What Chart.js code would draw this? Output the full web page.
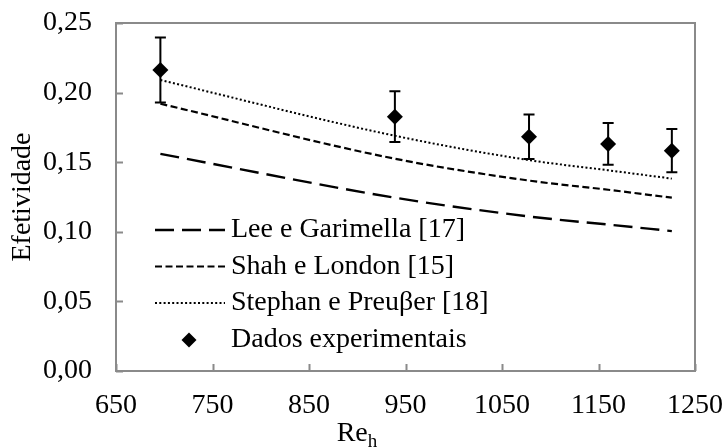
<!DOCTYPE html>
<html>
<head>
<meta charset="utf-8">
<script src="https://cdn.jsdelivr.net/npm/chart.js@4/dist/chart.umd.min.js"></script>
<style>
  html, body { margin: 0; padding: 0; background: #fff; }
  #wrap { width: 726px; height: 448px; }
</style>
</head>
<body>
<div id="wrap"><canvas id="chart" width="726" height="448"></canvas></div>
<script>
// Reynolds numbers where the correlations were evaluated / tests were run
const reModel = [696, 939, 1078, 1160, 1226];
const reExp = [696, 939, 1078, 1160, 1226];

// effectiveness predicted by each correlation
const leeGarimella = [0.156, 0.1245, 0.111, 0.1052, 0.1005];
const shahLondon = [0.192, 0.1525, 0.1368, 0.1302, 0.1245];
const stephanPreusser = [0.209, 0.169, 0.1515, 0.1442, 0.1382];

// measured effectiveness and its uncertainty
const efetividadeExp = [0.2162, 0.1827, 0.1683, 0.1631, 0.1583];
const incertezaExp = [0.0233, 0.0182, 0.016, 0.015, 0.0155];

const xLimits = [650, 1250, 100];
const yLimits = [0, 0.25, 0.05];

const FONT = 'Liberation Serif, Times New Roman, serif';
const FONT_SIZE = 28;
const AXIS_GRAY = '#8a8a8a';

function pts(xs, ys) {
  return xs.map((x, i) => ({ x: x, y: ys[i] }));
}

const series = [
  { label: 'Lee e Garimella [17]', data: pts(reModel, leeGarimella), dash: [19, 8], width: 2.4 },
  { label: 'Shah e London [15]', data: pts(reModel, shahLondon), dash: [7, 3.5], width: 2.2 },
  { label: 'Stephan e Preu\u03b2er [18]', data: pts(reModel, stephanPreusser), dash: [2, 2.3], width: 2 }
];

// plot frame, inward tick marks and error bars
const framePlugin = {
  id: 'frame',
  beforeDatasetsDraw(chart) {
    const ctx = chart.ctx;
    const a = chart.chartArea;
    const xs = chart.scales.x, ys = chart.scales.y;
    ctx.save();
    ctx.strokeStyle = AXIS_GRAY;
    ctx.lineWidth = 2;
    ctx.strokeRect(a.left, a.top, a.right - a.left, a.bottom - a.top);
    ctx.beginPath();
    xs.ticks.forEach(t => {
      const px = Math.round(xs.getPixelForValue(t.value)) + 0.5;
      ctx.moveTo(px, a.bottom);
      ctx.lineTo(px, a.bottom - 7);
    });
    ys.ticks.forEach(t => {
      const py = Math.round(ys.getPixelForValue(t.value)) + 0.5;
      ctx.moveTo(a.left, py);
      ctx.lineTo(a.left + 7, py);
    });
    ctx.stroke();
    ctx.restore();
  },
  afterDatasetsDraw(chart) {
    const ctx = chart.ctx;
    const xs = chart.scales.x, ys = chart.scales.y;
    ctx.save();
    ctx.strokeStyle = '#000';
    ctx.lineWidth = 2;
    ctx.beginPath();
    reExp.forEach((re, i) => {
      const px = xs.getPixelForValue(re);
      const top = ys.getPixelForValue(efetividadeExp[i] + incertezaExp[i]);
      const bot = ys.getPixelForValue(efetividadeExp[i] - incertezaExp[i]);
      ctx.moveTo(px, top); ctx.lineTo(px, bot);
      ctx.moveTo(px - 5.5, top); ctx.lineTo(px + 5.5, top);
      ctx.moveTo(px - 5.5, bot); ctx.lineTo(px + 5.5, bot);
    });
    ctx.stroke();
    ctx.restore();
  },
  afterDraw(chart) {
    const ctx = chart.ctx;
    ctx.save();
    ctx.fillStyle = '#000';
    ctx.font = FONT_SIZE + 'px ' + FONT;
    ctx.textBaseline = 'middle';

    // legend inside the plot
    const rows = [230, 266.5, 303, 340];
    const x0 = 155, x1 = 225, tx = 231;
    series.forEach((s, i) => {
      ctx.save();
      ctx.strokeStyle = '#000';
      ctx.lineWidth = s.width;
      ctx.setLineDash(s.dash);
      ctx.beginPath();
      ctx.moveTo(x0, rows[i]);
      ctx.lineTo(x1, rows[i]);
      ctx.stroke();
      ctx.restore();
      ctx.fillText(s.label, tx, rows[i]);
    });
    const cy = rows[3], cx = 189, r = 7.5;
    ctx.beginPath();
    ctx.moveTo(cx, cy - r); ctx.lineTo(cx + r, cy);
    ctx.lineTo(cx, cy + r); ctx.lineTo(cx - r, cy);
    ctx.closePath();
    ctx.fill();
    ctx.fillText('Dados experimentais', tx, cy);

    // x axis title with subscript
    ctx.textBaseline = 'alphabetic';
    ctx.textAlign = 'left';
    const w1 = ctx.measureText('Re').width;
    ctx.font = '19px ' + FONT;
    const w2 = ctx.measureText('h').width;
    const sx = 357 - (w1 + w2) / 2;
    ctx.font = FONT_SIZE + 'px ' + FONT;
    ctx.fillText('Re', sx, 441);
    ctx.font = '19px ' + FONT;
    ctx.fillText('h', sx + w1, 447);
    ctx.restore();
  }
};

const datasets = series.map(s => ({
  label: s.label,
  data: s.data,
  showLine: true,
  borderColor: '#000',
  borderWidth: s.width,
  borderDash: s.dash,
  pointRadius: 0,
  fill: false,
  cubicInterpolationMode: 'monotone'
}));

datasets.push({
  label: 'Dados experimentais',
  data: pts(reExp, efetividadeExp),
  showLine: false,
  pointStyle: 'rectRot',
  pointRadius: 8,
  pointBackgroundColor: '#000',
  pointBorderColor: '#000',
  pointBorderWidth: 0
});

new Chart(document.getElementById('chart'), {
  type: 'scatter',
  data: { datasets: datasets },
  options: {
    responsive: false,
    animation: false,
    layout: { autoPadding: false, padding: { top: 23, right: 31, left: 0, bottom: 0 } },
    plugins: {
      legend: { display: false },
      tooltip: { enabled: false }
    },
    scales: {
      x: {
        type: 'linear',
        min: xLimits[0], max: xLimits[1],
        grid: { display: false },
        border: { display: false },
        ticks: {
          stepSize: xLimits[2],
          padding: 10,
          color: '#000',
          font: { family: FONT, size: FONT_SIZE },
          maxRotation: 0,
          callback: v => String(v)
        },
        afterFit(s) {
          // fixed axis band; labels may overhang the plot edges
          s.height = 77;
          s.paddingLeft = 0;
          s.paddingRight = 0;
        }
      },
      y: {
        type: 'linear',
        min: yLimits[0], max: yLimits[1],
        grid: { display: false },
        border: { display: false },
        ticks: {
          stepSize: yLimits[2],
          padding: 16,
          color: '#000',
          font: { family: FONT, size: FONT_SIZE },
          callback: v => v.toFixed(2).replace('.', ',')
        },
        title: {
          display: true,
          text: 'Efetividade',
          color: '#000',
          font: { family: FONT, size: FONT_SIZE },
          padding: { top: 6, bottom: 0 }
        },
        afterFit(s) {
          s.width = 116;
          s.paddingTop = 0;
          s.paddingBottom = 0;
        }
      }
    }
  },
  plugins: [framePlugin]
});
</script>
</body>
</html>
